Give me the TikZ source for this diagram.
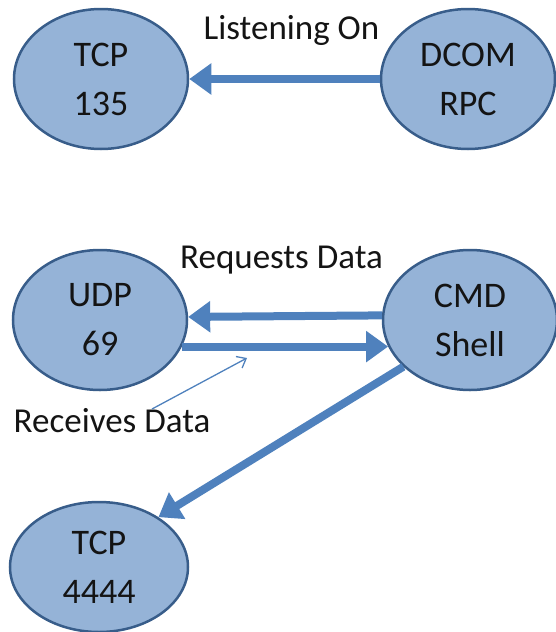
\documentclass[tikz,border=0pt]{standalone}
\usepackage{fontspec}
\setmainfont{Carlito}
\usetikzlibrary{arrows.meta,shapes.geometric}
\definecolor{ellfill}{RGB}{149,179,215}
\definecolor{elldraw}{RGB}{56,93,138}
\definecolor{arr}{RGB}{79,129,189}
\definecolor{txt}{RGB}{20,20,20}
\begin{document}
\begin{tikzpicture}[x=1pt,y=-1pt,
  port/.style={ellipse, draw=elldraw, line width=2.5pt, fill=ellfill,
    minimum width=174pt, minimum height=140pt, inner sep=0pt, align=center,
    text=txt, font=\fontsize{36}{49}\selectfont},
  bigarrow/.style={draw=arr, line width=8pt, -{Triangle[width=30pt,length=22pt]}},
  ptr/.style={draw=arr, line width=1.3pt, -{Straight Barb[width=13pt,length=8pt]}},
  lbl/.style={anchor=base, text=txt, font=\fontsize{35}{42}\selectfont, inner sep=0pt}]
\useasboundingbox (0,0) rectangle (556,632);

\node[port] (tcp135) at (101,79) {TCP\\135};
\node[port] (dcom) at (468,79) {DCOM\\RPC};
\node[port] (udp) at (100,320) {UDP\\69};
\node[port] (cmd) at (470,320) {CMD\\Shell};
\node[port, minimum width=178pt, minimum height=130pt] (tcp4444) at (99,567) {TCP\\4444};

\node[lbl] (listen) at (291.5,39) {Listening On};
\node[lbl] (req) at (281.5,268) {Requests Data};
\node[lbl] (recv) at (112,432) {Receives Data};

\draw[bigarrow] (dcom) -- (tcp135);
\draw[bigarrow] (cmd.177.6) -- (udp.2.3);
\draw[bigarrow] (udp.-18.4) -- (cmd.-162.7);
\draw[bigarrow] (cmd.-145) -- (tcp4444.40);

\coordinate (ptrstart) at (152,409);
\coordinate (ptrend) at (247,358);
\draw[ptr] (ptrstart) -- (ptrend);
\end{tikzpicture}
\end{document}
